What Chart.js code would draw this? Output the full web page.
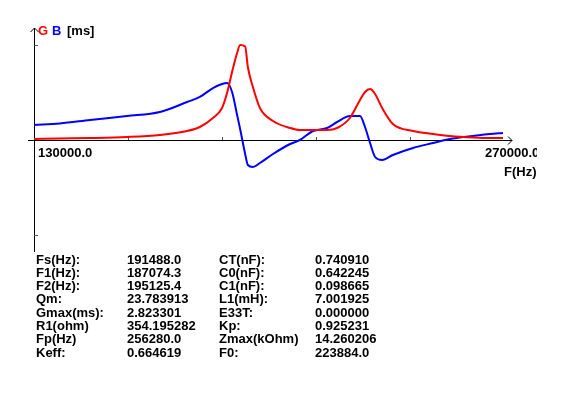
<!DOCTYPE html>
<html>
<head>
<meta charset="utf-8">
<script src="https://cdn.jsdelivr.net/npm/chart.js@4"></script>
<style>
  body { margin: 0; background: #fff; }
  #wrap { position: relative; width: 572px; height: 396px; }
  #params { position: absolute; left: 0; top: 0; font: bold 13px "Liberation Sans", Arial, sans-serif; color: #000; }
  #params div { position: absolute; white-space: nowrap; line-height: 13px; }
</style>
</head>
<body>
<div id="wrap">
  <canvas id="gbChart" width="572" height="396"></canvas>
  <div id="params"></div>
</div>
<script>
// frequency sweep (Hz) and measured conductance / susceptance (ms)
const freqs = [130000, 137700, 146700, 157700, 167500, 175600, 179400, 183300, 186000, 187500,
  189000, 190500, 191400, 192900, 193700, 195200, 197300, 201200, 206300, 209200,
  213100, 217300, 220300, 224100, 227100, 228600, 230100, 231600, 233700, 236900,
  242900, 248900, 253900, 260800, 265800, 269700];
const gValues = [0.03, 0.045, 0.059, 0.089, 0.149, 0.267, 0.386, 0.654, 0.951, 1.397,
  2.021, 2.585, 2.82, 2.78, 2.169, 1.575, 0.951, 0.565, 0.357, 0.297,
  0.297, 0.297, 0.357, 0.654, 1.189, 1.426, 1.516, 1.367, 0.951, 0.475,
  0.267, 0.178, 0.119, 0.074, 0.059, 0.059];
const bValues = [0.446, 0.49, 0.594, 0.713, 0.832, 1.129, 1.278, 1.545, 1.664, 1.694,
  1.426, 0.743, 0.327, -0.416, -0.743, -0.802, -0.684, -0.416, -0.119, 0,
  0.267, 0.357, 0.535, 0.713, 0.713, 0.386, -0.089, -0.505, -0.594, -0.446,
  -0.238, -0.089, 0.03, 0.119, 0.178, 0.208];

const fMin = 130000;
const fMax = 270000;
const xTicks = [158000, 186000, 214000, 242000];
const gMax = 2.823301;

// result table
const paramNames1 = ["Fs(Hz):", "F1(Hz):", "F2(Hz):", "Qm:", "Gmax(ms):", "R1(ohm)", "Fp(Hz)", "Keff:"];
const paramValues1 = ["191488.0", "187074.3", "195125.4", "23.783913", "2.823301", "354.195282", "256280.0", "0.664619"];
const paramNames2 = ["CT(nF):", "C0(nF):", "C1(nF):", "L1(mH):", "E33T:", "Kp:", "Zmax(kOhm)", "F0:"];
const paramValues2 = ["0.740910", "0.642245", "0.098665", "7.001925", "0.000000", "0.925231", "14.260206", "223884.0"];

const colX = [36, 127, 219, 315];
const params = document.getElementById("params");
[paramNames1, paramValues1, paramNames2, paramValues2].forEach((col, c) => {
  col.forEach((txt, r) => {
    const d = document.createElement("div");
    d.textContent = txt;
    d.style.left = colX[c] + "px";
    d.style.top = (252.5 + r * 13.3) + "px";
    params.appendChild(d);
  });
});

const FONT = 'bold 13px "Liberation Sans", Arial, sans-serif';

// axes with arrows, ticks and labels
const axesPlugin = {
  id: "axes",
  beforeDatasetsDraw(chart) {
    const ctx = chart.ctx;
    const xs = chart.scales.x, ys = chart.scales.y;
    const x0 = xs.getPixelForValue(fMin);
    const y0 = ys.getPixelForValue(0);
    ctx.save();
    ctx.strokeStyle = "#000";
    ctx.lineWidth = 1;
    ctx.beginPath();
    // y axis
    ctx.moveTo(x0 + 0.5, chart.chartArea.bottom);
    ctx.lineTo(x0 + 0.5, chart.chartArea.top);
    ctx.moveTo(x0 - 3.5, chart.chartArea.top + 4);
    ctx.lineTo(x0 + 0.5, chart.chartArea.top);
    ctx.lineTo(x0 + 4.5, chart.chartArea.top + 4);
    // x axis
    const xEnd = xs.getPixelForValue(fMax) + 8;
    ctx.moveTo(x0 - 6, Math.round(y0) + 0.5);
    ctx.lineTo(xEnd, Math.round(y0) + 0.5);
    ctx.moveTo(xEnd - 4, Math.round(y0) - 3.5);
    ctx.lineTo(xEnd, Math.round(y0) + 0.5);
    ctx.lineTo(xEnd - 4, Math.round(y0) + 4.5);
    ctx.stroke();
    // ticks
    ctx.strokeStyle = "#555";
    ctx.beginPath();
    xTicks.forEach(v => {
      const px = Math.round(xs.getPixelForValue(v)) + 0.5;
      ctx.moveTo(px, Math.round(y0) - 3);
      ctx.lineTo(px, Math.round(y0));
    });
    [gMax, -gMax].forEach(v => {
      const py = Math.round(ys.getPixelForValue(v)) + 0.5;
      ctx.moveTo(x0, py);
      ctx.lineTo(x0 + 4, py);
    });
    ctx.stroke();
    // labels
    ctx.font = FONT;
    ctx.textBaseline = "middle";
    ctx.fillStyle = "#ff0000";
    ctx.fillText("G", x0 + 4, chart.chartArea.top + 3);
    ctx.fillStyle = "#0000ff";
    ctx.fillText("B", x0 + 18, chart.chartArea.top + 3);
    ctx.fillStyle = "#000";
    ctx.fillText("[ms]", x0 + 33, chart.chartArea.top + 3);
    ctx.fillText(fMin.toFixed(1), x0 + 4, y0 + 13);
    ctx.save();
    ctx.beginPath();
    ctx.rect(0, 0, 537, 396);
    ctx.clip();
    ctx.fillText(fMax.toFixed(1), 485, y0 + 13);
    ctx.restore();
    ctx.fillText("F(Hz)", 504, y0 + 32);
    ctx.restore();
  }
};

const toPoints = vals => freqs.map((f, i) => ({ x: f, y: vals[i] }));

new Chart(document.getElementById("gbChart"), {
  type: "line",
  data: {
    datasets: [
      {
        label: "G",
        data: toPoints(gValues),
        borderColor: "#ff0000",
        borderWidth: 2,
        pointRadius: 0,
        cubicInterpolationMode: "monotone"
      },
      {
        label: "B",
        data: toPoints(bValues),
        borderColor: "#0000ff",
        borderWidth: 2,
        pointRadius: 0,
        cubicInterpolationMode: "monotone"
      }
    ]
  },
  options: {
    responsive: false,
    animation: false,
    layout: { padding: { left: 34, right: 68, top: 28, bottom: 144 } },
    plugins: {
      legend: { display: false },
      tooltip: { enabled: false }
    },
    scales: {
      x: { type: "linear", min: fMin, max: fMax, display: false },
      y: { min: -3.328, max: 3.328, display: false }
    }
  },
  plugins: [axesPlugin]
});
</script>
</body>
</html>
